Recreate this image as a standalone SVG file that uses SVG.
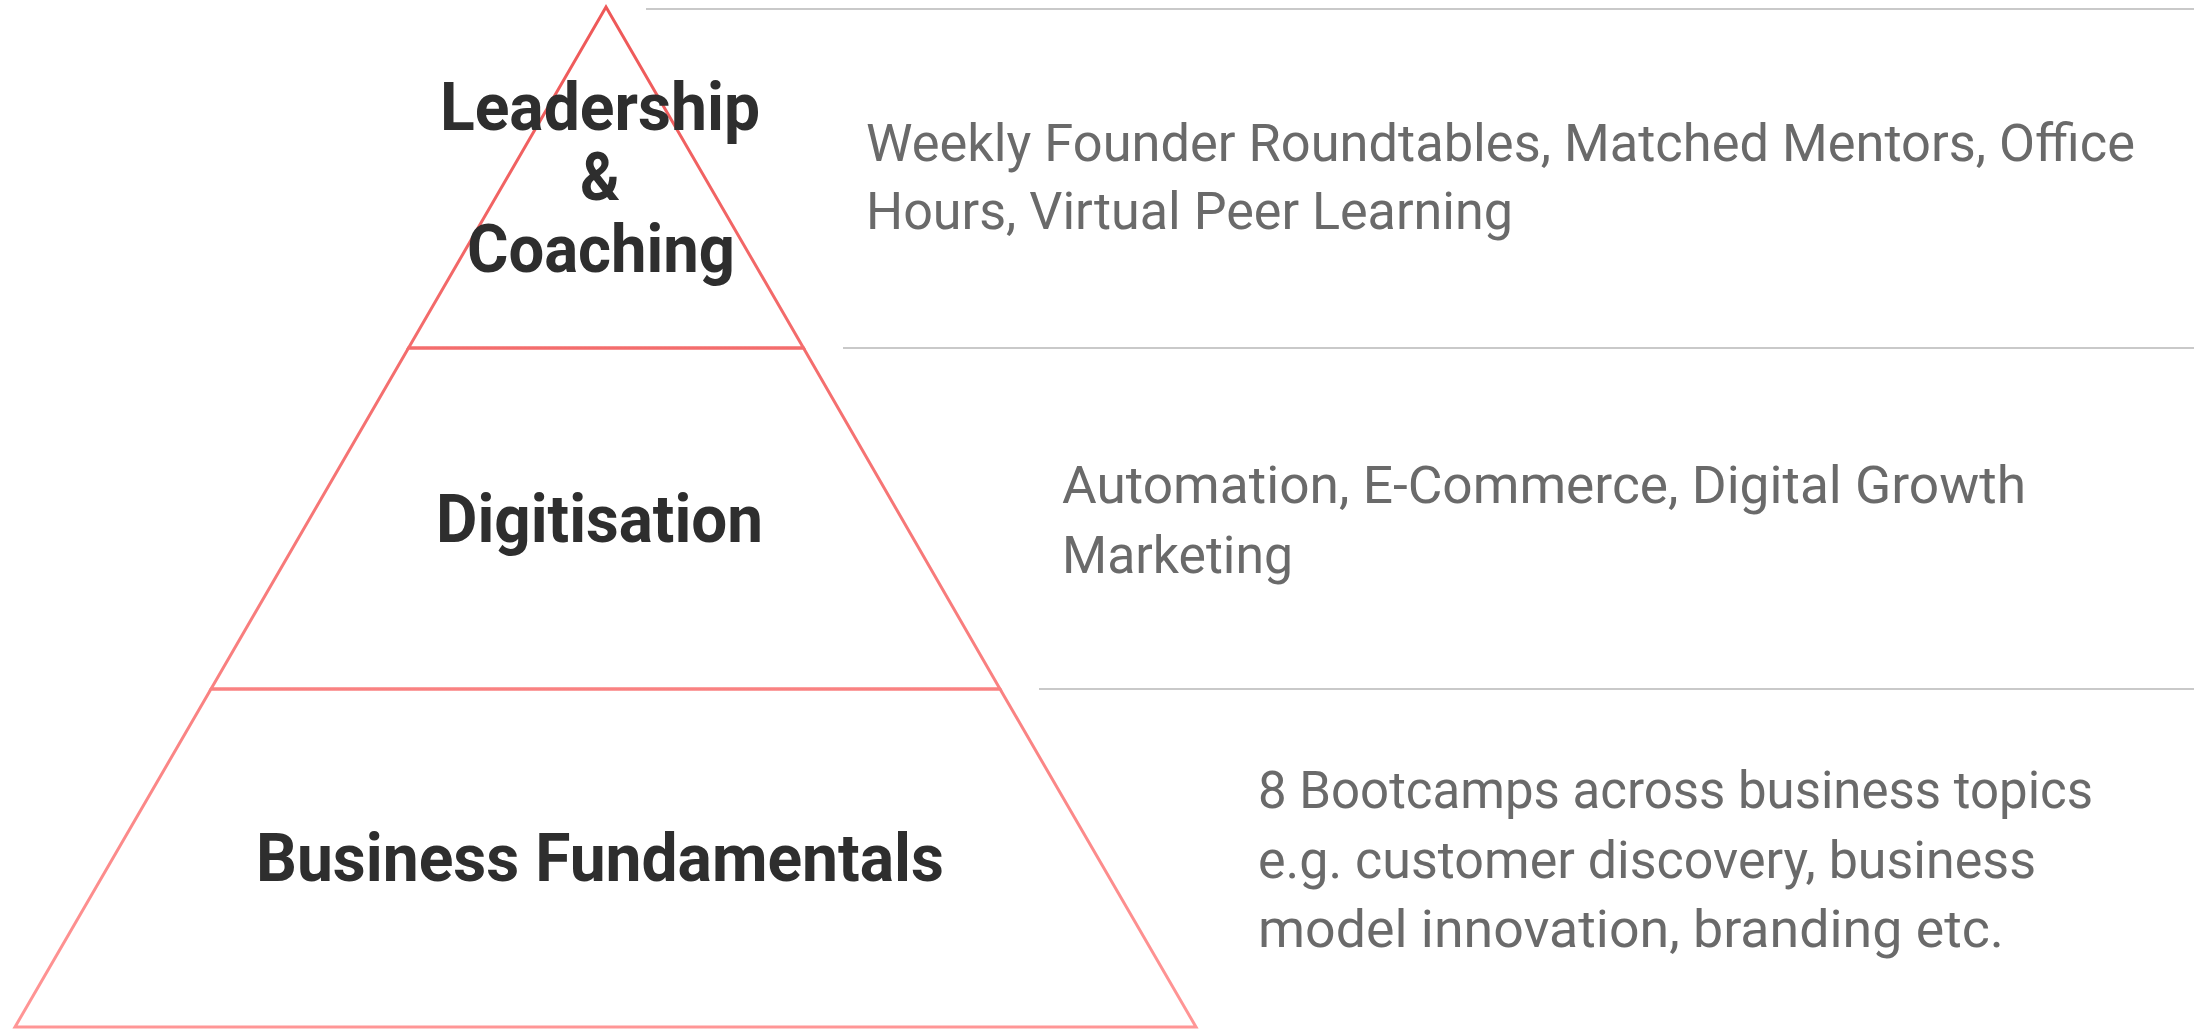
<svg xmlns="http://www.w3.org/2000/svg" width="2194" height="1029" viewBox="0 0 2194 1029">
<defs>
<linearGradient id="edge" gradientUnits="userSpaceOnUse" x1="0" y1="7" x2="0" y2="1028">
<stop offset="0" stop-color="#ee5858"/>
<stop offset="1" stop-color="#ff9696"/>
</linearGradient>
</defs>
<style>
.layer{fill:none;stroke:url(#edge);stroke-width:3;stroke-linejoin:miter}
.rule{stroke:#c9c9c9;stroke-width:2}
.lbl{font-family:Roboto,"Liberation Sans",sans-serif;font-weight:700;font-size:66px;fill:#2e2e2e}
.desc{font-family:Roboto,"Liberation Sans",sans-serif;font-weight:400;font-size:51px;fill:#6a6a6a}
</style>
<rect width="2194" height="1029" fill="#ffffff"/>
<g id="connectors">
<line class="rule" x1="646" y1="9" x2="2194" y2="9"/>
<line class="rule" x1="843" y1="348" x2="2194" y2="348"/>
<line class="rule" x1="1039" y1="689" x2="2194" y2="689"/>
</g>
<g id="layer-leadership">
<polygon class="layer" points="606,7 408.5,348 803.5,348"/>
<text class="lbl" x="440" y="130" textLength="320" lengthAdjust="spacingAndGlyphs">Leadership</text>
<text class="lbl" x="580" y="200" textLength="40" lengthAdjust="spacingAndGlyphs">&amp;</text>
<text class="lbl" x="467" y="272" textLength="268" lengthAdjust="spacingAndGlyphs">Coaching</text>
</g>
<g id="layer-digitisation">
<polygon class="layer" points="408.5,348 803.5,348 1000,689 211,689"/>
<text class="lbl" x="436" y="542" textLength="327" lengthAdjust="spacingAndGlyphs">Digitisation</text>
</g>
<g id="layer-fundamentals">
<polygon class="layer" points="211,689 1000,689 1196,1027 15,1027"/>
<text class="lbl" x="256" y="881" textLength="688" lengthAdjust="spacingAndGlyphs">Business Fundamentals</text>
</g>
<g id="desc-leadership">
<text class="desc" x="866" y="161" textLength="1269" lengthAdjust="spacingAndGlyphs">Weekly Founder Roundtables, Matched Mentors, Office</text>
<text class="desc" x="866" y="229" textLength="647" lengthAdjust="spacingAndGlyphs">Hours, Virtual Peer Learning</text>
</g>
<g id="desc-digitisation">
<text class="desc" x="1062" y="503" textLength="964" lengthAdjust="spacingAndGlyphs">Automation, E-Commerce, Digital Growth</text>
<text class="desc" x="1062" y="573" textLength="231" lengthAdjust="spacingAndGlyphs">Marketing</text>
</g>
<g id="desc-fundamentals">
<text class="desc" x="1258" y="808" textLength="835" lengthAdjust="spacingAndGlyphs">8 Bootcamps across business topics</text>
<text class="desc" x="1258" y="878" textLength="778" lengthAdjust="spacingAndGlyphs">e.g. customer discovery, business</text>
<text class="desc" x="1258" y="947" textLength="746" lengthAdjust="spacingAndGlyphs">model innovation, branding etc.</text>
</g>
</svg>
